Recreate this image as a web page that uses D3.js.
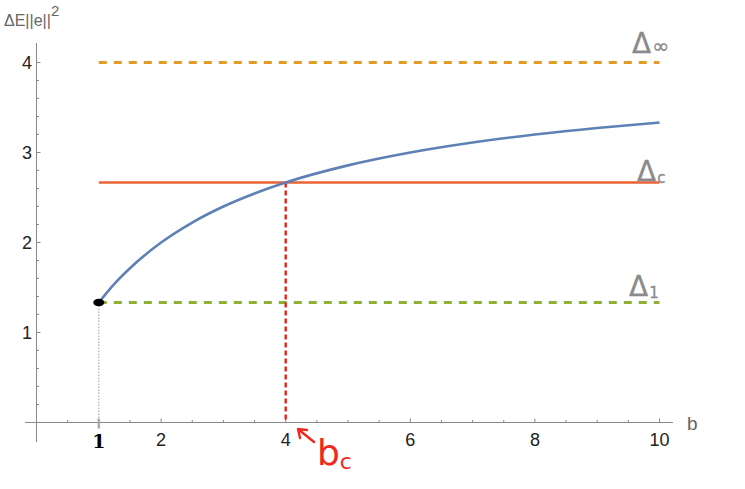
<!DOCTYPE html>
<html>
<head>
<meta charset="utf-8">
<script src="https://cdn.jsdelivr.net/npm/d3@7"></script>
<style>
  body { margin: 0; background: #fff; }
  svg { display: block; font-family: 'Liberation Sans', Arial, sans-serif; }
</style>
</head>
<body>
<div id="chart"></div>
<script>
// values
const bValues = [1, 1.25, 1.5, 2, 2.5, 3, 3.5, 4, 5, 6, 7, 8, 9, 10];
const deltaValues = [1.333, 1.54, 1.714, 2.0, 2.222, 2.4, 2.545, 2.667, 2.857, 3.0, 3.111, 3.2, 3.273, 3.333];
const levelNames = ['inf', 'c', '1'];
const levelValues = [4, 2.667, 1.333];
const xTicks = [2, 4, 6, 8, 10];
const yTicks = [1, 2, 3, 4];
const bCritical = 4;

const width = 745;
const height = 489;

const x = d3.scaleLinear().domain([0, 10]).range([36.5, 659.5]);
const y = d3.scaleLinear().domain([0, 4]).range([422.5, 62.5]);

const svg = d3.select('#chart')
  .append('svg')
  .attr('width', width)
  .attr('height', height);

// axes (Mathematica style: ticks drawn inward)
const axisColor = '#888';
svg.append('line')
  .attr('x1', 25).attr('x2', 673)
  .attr('y1', y(0)).attr('y2', y(0))
  .attr('stroke', axisColor).attr('stroke-width', 1);
svg.append('line')
  .attr('x1', x(0)).attr('x2', x(0))
  .attr('y1', 43).attr('y2', 442)
  .attr('stroke', axisColor).attr('stroke-width', 1);

// x ticks, every 0.5, majors every 2
const xMinor = d3.range(0.5, 10.01, 0.5);
svg.append('g')
  .selectAll('line')
  .data(xMinor)
  .join('line')
  .attr('x1', (d) => x(d)).attr('x2', (d) => x(d))
  .attr('y1', y(0))
  .attr('y2', (d) => y(0) - (xTicks.includes(d) ? 4 : 2.5))
  .attr('stroke', axisColor);

svg.append('g')
  .selectAll('text')
  .data(xTicks)
  .join('text')
  .attr('x', (d) => x(d))
  .attr('y', 446)
  .attr('text-anchor', 'middle')
  .attr('font-size', 18)
  .attr('fill', '#222')
  .text((d) => d);

// y ticks, every 0.2, majors every 1
const yMinor = d3.range(1, 21).map((i) => i * 0.2);
svg.append('g')
  .selectAll('line')
  .data(yMinor)
  .join('line')
  .attr('x1', x(0))
  .attr('x2', (d) => x(0) + (Math.abs(d - Math.round(d)) < 1e-6 ? 4 : 2.5))
  .attr('y1', (d) => y(d)).attr('y2', (d) => y(d))
  .attr('stroke', axisColor);

svg.append('g')
  .selectAll('text')
  .data(yTicks)
  .join('text')
  .attr('x', 32)
  .attr('y', (d) => y(d) + 6.5)
  .attr('text-anchor', 'end')
  .attr('font-size', 18)
  .attr('fill', '#222')
  .text((d) => d);

// axis labels
const yLabel = svg.append('text')
  .attr('x', 4).attr('y', 26)
  .attr('font-size', 16)
  .attr('fill', '#666');
yLabel.append('tspan').text('ΔE||e||');
yLabel.append('tspan').attr('dy', -10).attr('font-size', 15).text('2');

svg.append('text')
  .attr('x', 687).attr('y', 430)
  .attr('font-size', 19)
  .attr('fill', '#666')
  .text('b');

// horizontal reference levels
const levelStyle = {
  inf: { color: '#E19C24', dash: '8,7', w: 3 },
  c: { color: '#EB6235', dash: null, w: 2.6 },
  1: { color: '#8FB032', dash: '8,7', w: 3 },
};
svg.append('g')
  .selectAll('line')
  .data(levelNames)
  .join('line')
  .attr('x1', x(1)).attr('x2', x(10))
  .attr('y1', (d, i) => y(levelValues[i]))
  .attr('y2', (d, i) => y(levelValues[i]))
  .attr('stroke', (d) => levelStyle[d].color)
  .attr('stroke-width', (d) => levelStyle[d].w)
  .attr('stroke-dasharray', (d) => levelStyle[d].dash);

// gray dotted drop line at b = 1
svg.append('line')
  .attr('x1', x(1)).attr('x2', x(1))
  .attr('y1', y(deltaValues[0])).attr('y2', y(0))
  .attr('stroke', '#999')
  .attr('stroke-width', 1)
  .attr('stroke-dasharray', '1.5,1.5');
svg.append('line')
  .attr('x1', x(1)).attr('x2', x(1))
  .attr('y1', y(0) - 4).attr('y2', y(0) + 6)
  .attr('stroke', '#aaa')
  .attr('stroke-width', 2.5);

// red dashed drop line at b_c
svg.append('line')
  .attr('x1', x(bCritical)).attr('x2', x(bCritical))
  .attr('y1', y(levelValues[1])).attr('y2', y(0))
  .attr('stroke', '#E8221B')
  .attr('stroke-width', 2.4)
  .attr('stroke-dasharray', '5,3');

// the curve
const line = d3.line()
  .x((d) => x(d[0]))
  .y((d) => y(d[1]))
  .curve(d3.curveMonotoneX);
svg.append('path')
  .datum(bValues.map((b, i) => [b, deltaValues[i]]))
  .attr('d', line)
  .attr('fill', 'none')
  .attr('stroke', '#5E81B5')
  .attr('stroke-width', 2.6);

// handwritten marks
svg.append('ellipse')
  .attr('cx', x(1)).attr('cy', y(deltaValues[0]))
  .attr('rx', 5.5).attr('ry', 3.8)
  .attr('fill', '#000');

svg.append('text')
  .attr('x', x(1)).attr('y', 448)
  .attr('text-anchor', 'middle')
  .attr('font-size', 19)
  .attr('font-weight', 'bold')
  .attr('font-family', 'DejaVu Serif')
  .attr('fill', '#000')
  .text('1');

const handGray = '#8a8a8a';
const handFont = "'DejaVu Sans', sans-serif";
const labels = [
  { name: 'inf', sub: '∞', dx: 632, dy: 53 },
  { name: 'c', sub: 'c', dx: 637, dy: 181 },
  { name: '1', sub: '1', dx: 629, dy: 296 },
];
labels.forEach((l) => {
  const t = svg.append('text')
    .attr('x', l.dx).attr('y', l.dy)
    .attr('font-family', handFont)
    .attr('font-size', 28)
    .attr('fill', handGray)
    .attr('stroke', handGray)
    .attr('stroke-width', 0.3);
  t.append('tspan').text('Δ');
  t.append('tspan')
    .attr('font-size', l.name === 'inf' ? 20 : 15)
    .attr('dx', 1)
    .attr('dy', l.name === 'inf' ? 0 : 2)
    .text(l.sub);
});

// b_c annotation with arrow
const red = '#F0281E';
svg.append('path')
  .attr('d', 'M314,442 L298,429 M298,429 L307,430 M298,429 L300,438')
  .attr('fill', 'none')
  .attr('stroke', red)
  .attr('stroke-width', 2.4)
  .attr('stroke-linecap', 'round');
const bc = svg.append('text')
  .attr('x', 317).attr('y', 465)
  .attr('font-family', handFont)
  .attr('font-size', 36)
  .attr('fill', red);
bc.append('tspan').text('b');
bc.append('tspan').attr('font-size', 22).attr('dy', 4).text('c');
</script>
</body>
</html>
